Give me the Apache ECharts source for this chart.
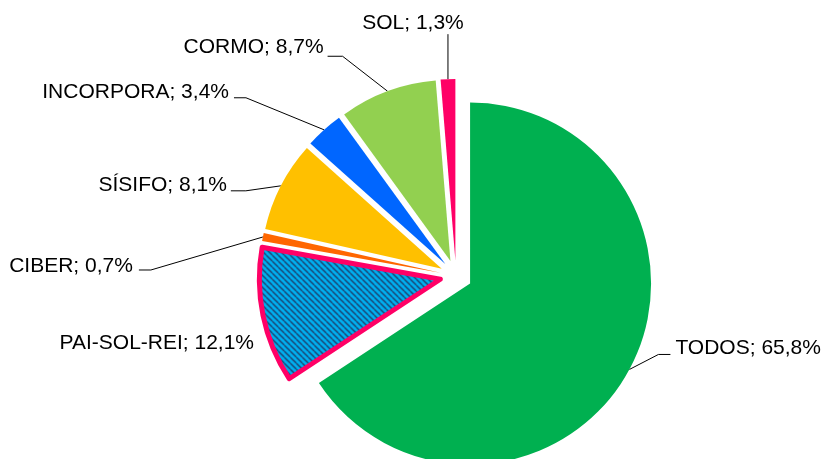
<!DOCTYPE html>
<html>
<head>
<meta charset="utf-8">
<script src="https://cdn.jsdelivr.net/npm/echarts@6/dist/echarts.min.js"></script>
<style>
  html, body { margin: 0; background: #fff; }
  #main { width: 824px; height: 459px; }
</style>
</head>
<body>
<div id="main"></div>
<script>
const categories = ['TODOS', 'PAI-SOL-REI', 'CIBER', 'SÍSIFO', 'INCORPORA', 'CORMO', 'SOL']
const shares = [65.8, 12.1, 0.7, 8.1, 3.4, 8.7, 1.3]
const sliceColors = ['#00B050', null, '#FF6600', '#FFC000', '#0066FF', '#92D050', '#FF0066']

const CENTER = [456, 276]
const RADIUS = 181
const EXPLODE = 16 // every slice is pulled out a bit

// leader lines, relative to the point on the (pulled out) slice edge
// [elbow dx, elbow dy, tail, text dx, text dy, align]
const leaders = {
  'TODOS': [29, -15, 12, 5, -6, 'left'],
  'PAI-SOL-REI': [0, 0, 0, -9, 28, 'right'],
  'CIBER': [-112, 33, -12, -6, -4, 'right'],
  'SÍSIFO': [-35, 5, -15, -4, -6, 'right'],
  'INCORPORA': [-78, -32, -12, -5, -6, 'right'],
  'CORMO': [-45, -35, -15, -4, -9, 'right'],
  'SOL': [0, -45, 0, -35, -11, 'center']
}

// diagonal hatch for PAI-SOL-REI
function hatch() {
  const c = document.createElement('canvas')
  c.width = 6
  c.height = 6
  const g = c.getContext('2d')
  g.fillStyle = '#00B0F0'
  g.fillRect(0, 0, 6, 6)
  g.strokeStyle = '#1F3864'
  g.lineWidth = 1.3
  for (let k = -1; k <= 1; k++) {
    g.beginPath()
    g.moveTo(k * 6, 0)
    g.lineTo(k * 6 + 6, 6)
    g.stroke()
  }
  return c
}

const fmt = (p) => p.name + '; ' + p.value.toFixed(1).replace('.', ',') + '%'

const chart = echarts.init(document.getElementById('main'))

chart.setOption({
  animation: false,
  series: [
    // slices
    {
      type: 'pie',
      center: CENTER,
      radius: RADIUS,
      startAngle: 90,
      clockwise: true,
      selectedMode: 'multiple',
      selectedOffset: EXPLODE,
      silent: true,
      emphasis: { disabled: true },
      label: { show: false },
      labelLine: { show: false },
      data: categories.map((name, i) => {
        const style = sliceColors[i]
          ? { color: sliceColors[i] }
          : {
            color: { image: hatch(), repeat: 'repeat' },
            borderColor: '#FF0066',
            borderWidth: 5
          }
        return { name: name, value: shares[i], selected: true, itemStyle: style, select: { itemStyle: style } }
      })
    },
    // labels only (same angles, invisible slices)
    {
      type: 'pie',
      center: CENTER,
      radius: RADIUS,
      startAngle: 90,
      clockwise: true,
      silent: true,
      avoidLabelOverlap: false,
      emphasis: { disabled: true },
      itemStyle: { color: 'rgba(0,0,0,0)' },
      label: {
        show: true,
        fontFamily: 'Liberation Sans, Arial, sans-serif',
        fontSize: 21,
        color: '#000',
        formatter: fmt
      },
      labelLine: {
        show: true,
        length: 10,
        length2: 10,
        lineStyle: { color: '#000', width: 1 }
      },
      labelLayout: (params) => {
        const L = leaders[categories[params.dataIndex]]
        const q = params.labelLinePoints[0]
        const vx = q[0] - CENTER[0]
        const vy = q[1] - CENTER[1]
        const len = Math.sqrt(vx * vx + vy * vy) || 1
        const p0 = [q[0] + EXPLODE * vx / len, q[1] + EXPLODE * vy / len]
        const elbow = [p0[0] + L[0], p0[1] + L[1]]
        const end = [elbow[0] + L[2], elbow[1]]
        return {
          x: end[0] + L[3],
          y: end[1] + L[4],
          align: L[5],
          verticalAlign: 'middle',
          labelLinePoints: [p0, elbow, end]
        }
      },
      data: categories.map((name, i) => ({ name: name, value: shares[i] }))
    }
  ]
})
</script>
</body>
</html>
